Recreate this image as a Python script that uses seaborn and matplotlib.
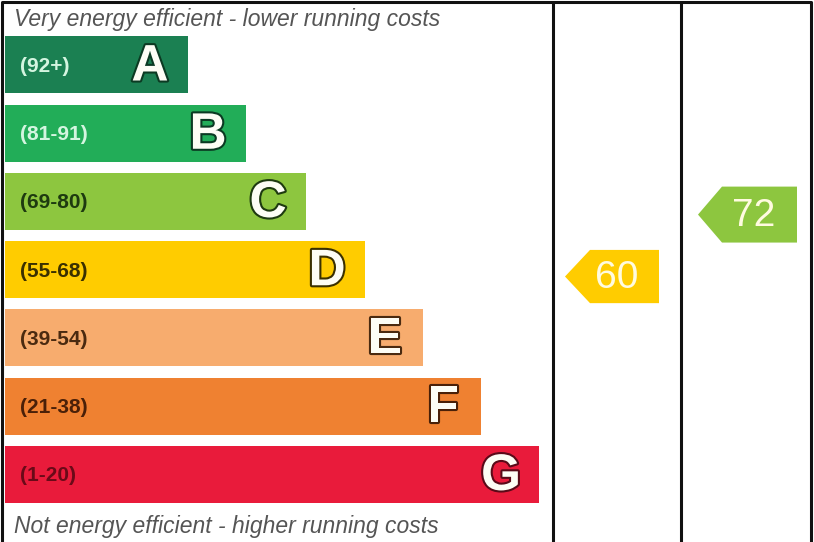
import numpy as np
import pandas as pd
import seaborn as sns
import matplotlib
matplotlib.use("Agg")
import matplotlib.pyplot as plt
import matplotlib.patheffects as pe
from matplotlib.patches import Polygon

# energy bands, top (best) to bottom (worst)
bands = ["A", "B", "C", "D", "E", "F", "G"]
ranges = ["(92+)", "(81-91)", "(69-80)", "(55-68)", "(39-54)", "(21-38)", "(1-20)"]
band_mid = [96, 86, 74.5, 61.5, 46.5, 29.5, 10.5]
bar_len = [183, 241, 301, 360, 418, 476, 534]
band_colors = ["#1b8052", "#22ad58", "#8dc63f", "#ffcc00", "#f7ac6e", "#ef8131", "#e91b3b"]
range_colors = ["#d4f5e0", "#d4f5e0", "#1e3a10", "#3a3000", "#4a2a10", "#4a2008", "#6a0a18"]
outline_colors = ["#0b3a22", "#0b3a22", "#1e3a10", "#3a3000", "#4a2a10", "#4a2008", "#5a0a18"]

current_score = 60
potential_score = 72

df = pd.DataFrame({"band": bands, "length": bar_len})

sns.set_theme(style="white")
plt.rcParams["font.family"] = ["Liberation Sans", "DejaVu Sans"]

fig = plt.figure(figsize=(8.14, 5.42), dpi=100)
ax = fig.add_axes([0, 0, 1, 1])

sns.barplot(data=df, x="length", y="band", hue="band", palette=band_colors,
            orient="h", width=0.835, saturation=1, legend=False, ax=ax, linewidth=0)

ax.set_xlim(-5, 809)
ax.set_ylim(6.99, -0.952)
ax.axis("off")

# range labels and big band letters
for i, b in enumerate(bands):
    ax.text(15, i + 0.02, ranges[i], ha="left", va="center", fontsize=15,
            fontweight="bold", color=range_colors[i])
    ax.text(bar_len[i] - 38, i + 0.03, b, ha="center", va="center", fontsize=37,
            fontweight="bold", color="#fdfdf5",
            path_effects=[pe.withStroke(linewidth=3, foreground=outline_colors[i])])

ax.text(9, -0.67, "Very energy efficient - lower running costs", ha="left", va="center",
        fontsize=16.5, style="italic", color="#555555")
ax.text(9, 6.77, "Not energy efficient - higher running costs", ha="left", va="center",
        fontsize=16.5, style="italic", color="#555555")

# frame: top line, left edge and the two rating columns
for xv in [-3, 548, 676, 806]:
    ax.plot([xv, xv], [-0.93, 6.99], color="#111111", lw=2.2, solid_capstyle="butt")
ax.plot([-3, 806], [-0.93, -0.93], color="#111111", lw=2.2)


def score_to_y(score):
    return np.interp(score, band_mid[::-1], list(range(6, -1, -1)))


def score_color(score):
    lows = [92, 81, 69, 55, 39, 21, 1]
    for i, lo in enumerate(lows):
        if score >= lo:
            return band_colors[i]
    return band_colors[-1]


def arrow(score, tip, body, right, h, text_x):
    y = score_to_y(score)
    pts = [(tip, y), (body, y - h / 2), (right, y - h / 2), (right, y + h / 2), (body, y + h / 2)]
    ax.add_patch(Polygon(pts, closed=True, color=score_color(score), lw=0))
    ax.text(text_x, y + 0.02, str(score), ha="center", va="center", fontsize=28,
            color="#fffbe0")


arrow(current_score, 560, 585, 654, 0.78, 612)
arrow(potential_score, 693, 717, 792, 0.82, 749)

fig.savefig("out.png", dpi=100, facecolor="white")
